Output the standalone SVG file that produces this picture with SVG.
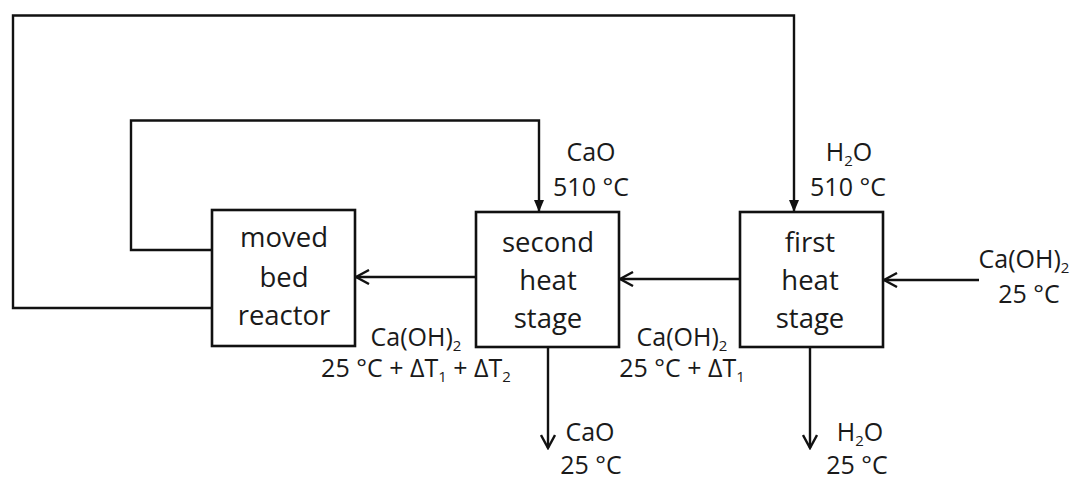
<svg xmlns="http://www.w3.org/2000/svg" width="1074" height="479" viewBox="0 0 1074 479">
<style>
.box{fill:#fff;stroke:#111;stroke-width:2.6}
.line{fill:none;stroke:#111;stroke-width:2.4}
.bt{font-family:"Open Sans","Liberation Sans",sans-serif;font-size:27.5px;fill:#1a1a1a;text-anchor:middle}
.lb{font-family:"Open Sans","Liberation Sans",sans-serif;font-size:25px;fill:#1a1a1a;text-anchor:middle}
.sub{font-size:15px}
</style>
<defs>
<marker id="open" viewBox="0 0 16 16" refX="14" refY="8" markerWidth="16" markerHeight="16" markerUnits="userSpaceOnUse" orient="auto">
<path d="M1,1 L14,8 L1,15" fill="none" stroke="#111" stroke-width="2.4"/>
</marker>
<marker id="solid" viewBox="0 0 12 10" refX="11" refY="5" markerWidth="12" markerHeight="10" markerUnits="userSpaceOnUse" orient="auto">
<path d="M0,0 L12,5 L0,10 Z" fill="#111"/>
</marker>
</defs>
<rect width="1074" height="479" fill="#fff"/>
<g id="connectors">
<path class="line" d="M212,308 L13,308 L13,15.5 L794,15.5 L794,211" marker-end="url(#solid)"/>
<path class="line" d="M212,250 L131,250 L131,120.5 L539,120.5 L539,211" marker-end="url(#solid)"/>
<path class="line" d="M476,277 L356,277" marker-end="url(#open)"/>
<path class="line" d="M740,279 L620,279" marker-end="url(#open)"/>
<path class="line" d="M979,280 L884,280" marker-end="url(#open)"/>
<path class="line" d="M548,347 L548,448" marker-end="url(#open)"/>
<path class="line" d="M810,347 L810,448" marker-end="url(#open)"/>
</g>
<g id="moved-bed-reactor">
<rect class="box" x="212" y="210" width="143" height="136"/>
<text class="bt" x="284" y="247">moved</text>
<text class="bt" x="284" y="287">bed</text>
<text class="bt" x="284" y="325">reactor</text>
</g>
<g id="second-heat-stage">
<rect class="box" x="476" y="212" width="143" height="135"/>
<text class="bt" x="548" y="252">second</text>
<text class="bt" x="548" y="290">heat</text>
<text class="bt" x="548" y="328">stage</text>
</g>
<g id="first-heat-stage">
<rect class="box" x="740" y="212" width="143" height="135"/>
<text class="bt" x="810" y="252">first</text>
<text class="bt" x="810" y="290">heat</text>
<text class="bt" x="810" y="328">stage</text>
</g>
<g id="labels">
<text class="lb" x="591" y="161">CaO</text>
<text class="lb" x="591" y="196">510 °C</text>
<text class="lb" x="849" y="161">H<tspan class="sub" dy="5">2</tspan><tspan dy="-5">O</tspan></text>
<text class="lb" x="848" y="196">510 °C</text>
<text class="lb" x="1024" y="268">Ca(OH)<tspan class="sub" dy="5">2</tspan></text>
<text class="lb" x="1029" y="303">25 °C</text>
<text class="lb" x="416" y="346">Ca(OH)<tspan class="sub" dy="5">2</tspan></text>
<text class="lb" x="416" y="377">25 °C + ΔT<tspan class="sub" dy="5">1</tspan><tspan dy="-5"> + ΔT</tspan><tspan class="sub" dy="5">2</tspan></text>
<text class="lb" x="682" y="346">Ca(OH)<tspan class="sub" dy="5">2</tspan></text>
<text class="lb" x="682" y="377">25 °C + ΔT<tspan class="sub" dy="5">1</tspan></text>
<text class="lb" x="590" y="441">CaO</text>
<text class="lb" x="591" y="474">25 °C</text>
<text class="lb" x="860" y="441">H<tspan class="sub" dy="5">2</tspan><tspan dy="-5">O</tspan></text>
<text class="lb" x="857" y="474">25 °C</text>
</g>
</svg>
